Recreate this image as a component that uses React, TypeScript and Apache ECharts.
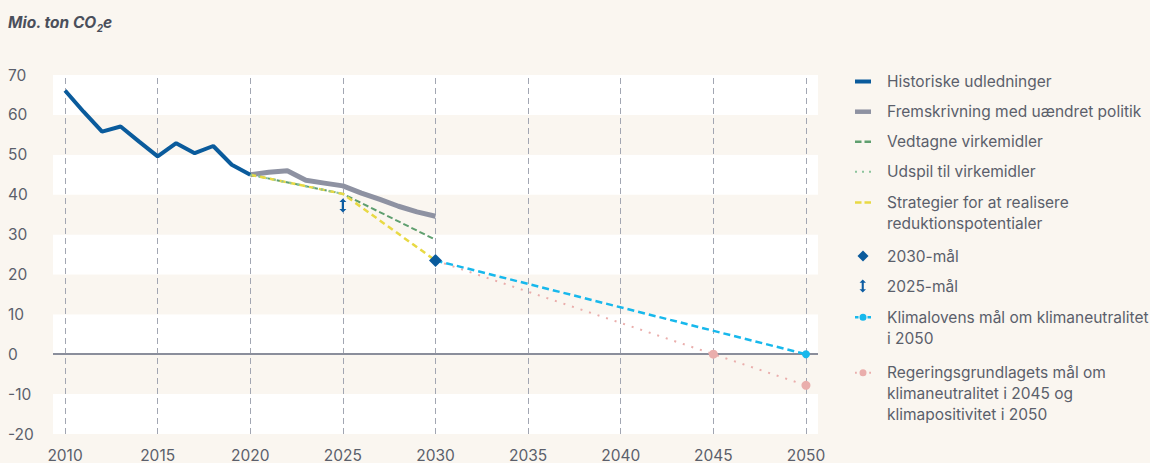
import React, { useEffect, useRef } from "react";
import * as echarts from "echarts";

// ---- data ----
const historicYears = [2010, 2011, 2012, 2013, 2014, 2015, 2016, 2017, 2018, 2019, 2020];
const historic = [66.1, 60.8, 55.8, 57.1, 53.3, 49.6, 52.9, 50.4, 52.2, 47.5, 45.0];
const projectionYears = [2020, 2021, 2022, 2023, 2024, 2025, 2026, 2027, 2028, 2029, 2030];
const projection = [45.0, 45.6, 46.0, 43.6, 42.9, 42.2, 40.4, 38.8, 37.1, 35.7, 34.6];
const adoptedYears = [2020, 2025, 2030];
const adopted = [45.0, 40.2, 28.7];
const proposalYears = [2020, 2025];
const proposals = [45.0, 40.2];
const strategyYears = [2020, 2025, 2030];
const strategy = [45.0, 40.2, 23.5];
const target2030 = [2030, 23.5];
const target2025 = [2025, 37.3];
const climateLawYears = [2030, 2050];
const climateLaw = [23.5, 0];
const govYears = [2030, 2045, 2050];
const gov = [23.5, 0, -7.8];
const xTicks = [2010, 2015, 2020, 2025, 2030, 2035, 2040, 2045, 2050];

const seriesNames = [
  "Historiske udledninger",
  "Fremskrivning med uændret politik",
  "Vedtagne virkemidler",
  "Udspil til virkemidler",
  "Strategier for at realisere reduktionspotentialer",
  "2030-mål",
  "2025-mål",
  "Klimalovens mål om klimaneutralitet i 2050",
  "Regeringsgrundlagets mål om klimaneutralitet i 2045 og klimapositivitet i 2050",
];
const legendLabels = [
  "Historiske udledninger",
  "Fremskrivning med uændret politik",
  "Vedtagne virkemidler",
  "Udspil til virkemidler",
  "Strategier for at realisere\nreduktionspotentialer",
  "2030-mål",
  "2025-mål",
  "Klimalovens mål om klimaneutralitet\ni 2050",
  "Regeringsgrundlagets mål om\nklimaneutralitet i 2045 og\nklimapositivitet i 2050",
];

const BG = "#faf6f0";
const TEXT = "#5b5f6b";
const FONT = "Inter";
const ARROW = "path://M5,0 L10,5 L6.6,5 L6.6,15 L10,15 L5,20 L0,15 L3.4,15 L3.4,5 L0,5 Z";
const CIRCLE = "M4.5,5.25A3.5,3.5 0 1,0 11.5,5.25A3.5,3.5 0 1,0 4.5,5.25Z";
const legendIcons = [
  "path://M0,0H16V4H0Z",
  "path://M0,0H16V4.5H0Z",
  "path://M0,0H6.5V2.5H0Z M9.5,0H16V2.5H9.5Z",
  "path://M0,0H2V2H0Z M7,0H9V2H7Z M14,0H16V2H14Z",
  "path://M0,0H6.5V2.5H0Z M9.5,0H16V2.5H9.5Z",
  "path://M5,0L10,5L5,10L0,5Z",
  ARROW,
  "path://M0,4H3.5V6.5H0Z M12.5,4H16V6.5H12.5Z " + CIRCLE,
  "path://M0,4.4H1.8V6.2H0Z M14.2,4.4H16V6.2H14.2Z " + CIRCLE,
];

const pairs = (xs: number[], ys: number[]) => xs.map((x, i) => [x, ys[i]]);

export default function App() {
  const ref = useRef<HTMLDivElement>(null);
  useEffect(() => {
    if (!ref.current) return;
    const chart = echarts.init(ref.current, null, { renderer: "svg" });
    const LH = 21;
    const legendCenters = [81.5, 111.7, 141.7, 171.7, 202.5, 256, 286, 317.3, 372.7];
    const legends = seriesNames.map((name, i) => {
      const n = legendLabels[i].split("\n").length;
      const isArrow = name === "2025-mål";
      const isDiamond = name === "2030-mål";
      const ih = isArrow ? 13 : isDiamond ? 11 : 10;
      const boxH = Math.max((2 * n - 1) * LH, ih);
      const text = " \n".repeat(n - 1) + legendLabels[i];
      return {
        show: true,
        orient: "vertical",
        left: isArrow ? 859.5 : isDiamond ? 857.5 : 855,
        top: legendCenters[i] - boxH / 2,
        padding: 0,
        itemWidth: 16,
        itemHeight: ih,
        icon: legendIcons[i],
        selectedMode: false,
        data: [name],
        formatter: () => text,
        textStyle: {
          color: TEXT,
          fontFamily: FONT,
          fontSize: 15.5,
          lineHeight: LH,
          padding: [0, 0, 0, 11],
        },
      };
    });

    chart.setOption({
      animation: false,
      backgroundColor: BG,
      textStyle: { fontFamily: FONT },
      title: {
        left: 8,
        top: 10,
        padding: 0,
        text: "{a|Mio. ton CO}{s|2}{a|e}",
        textStyle: {
          rich: {
            a: { fontFamily: FONT, fontSize: 15.5, fontWeight: "bold", fontStyle: "italic", color: "#4a4f5b", lineHeight: 20, verticalAlign: "bottom" },
            s: { fontFamily: FONT, fontSize: 10, fontWeight: "bold", fontStyle: "italic", color: "#4a4f5b", lineHeight: 15, verticalAlign: "bottom", padding: [0, 0, -3, 0] },
          },
        },
      },
      legend: legends,
      grid: { left: 53, right: 332, top: 75, bottom: 27, containLabel: false },
      xAxis: {
        type: "value",
        min: 2009.35,
        max: 2050.65,
        axisLine: { show: false, onZero: false },
        axisTick: { show: false },
        splitLine: { show: false },
        axisLabel: {
          customValues: xTicks,
          color: TEXT,
          fontFamily: FONT,
          fontSize: 15.5,
          margin: 13,
          formatter: (v: number) => String(v),
        },
      },
      yAxis: {
        type: "value",
        min: -20,
        max: 70,
        interval: 10,
        axisLine: { show: false },
        axisTick: { show: false },
        splitLine: { show: false },
        splitArea: { show: true, areaStyle: { color: ["#ffffff", BG] } },
        axisLabel: { color: TEXT, fontFamily: FONT, fontSize: 15.5, align: "left", margin: 45 },
      },
      series: [
        {
          type: "line",
          data: [],
          silent: true,
          z: 1,
          markLine: {
            silent: true,
            symbol: ["none", "none"],
            label: { show: false },
            emphasis: { disabled: true },
            data: [
              ...xTicks.map((x) => ({ xAxis: x, lineStyle: { color: "#a2a6b2", width: 1, type: [6, 4] } })),
              { yAxis: 0, lineStyle: { color: "#8a8e9b", width: 2, type: "solid" } },
            ],
          },
        },
        {
          name: seriesNames[1],
          type: "line",
          z: 3,
          symbol: "none",
          data: pairs(projectionYears, projection),
          lineStyle: { color: "#8e92a2", width: 5 },
          itemStyle: { color: "#8e92a2" },
        },
        {
          name: seriesNames[2],
          type: "line",
          z: 4,
          symbol: "none",
          data: pairs(adoptedYears, adopted),
          lineStyle: { color: "#5f9f6f", width: 2, type: [6, 3] },
          itemStyle: { color: "#5f9f6f" },
        },
        {
          name: seriesNames[4],
          type: "line",
          z: 5,
          symbol: "none",
          data: pairs(strategyYears, strategy),
          lineStyle: { color: "#e8d944", width: 2.5, type: [6, 4] },
          itemStyle: { color: "#e8d944" },
        },
        {
          name: seriesNames[3],
          type: "line",
          z: 6,
          symbol: "none",
          data: pairs(proposalYears, proposals),
          lineStyle: { color: "#8cc49c", width: 2, type: [2, 6] },
          itemStyle: { color: "#8cc49c" },
        },
        {
          name: seriesNames[7],
          type: "line",
          z: 6,
          symbol: "circle",
          symbolSize: 8,
          data: climateLawYears.map((x, i) => (i === 0 ? { value: [x, climateLaw[i]], symbol: "none" } : { value: [x, climateLaw[i]] })),
          lineStyle: { color: "#17b8ec", width: 2.5, type: [7, 4] },
          itemStyle: { color: "#17b8ec" },
        },
        {
          name: seriesNames[8],
          type: "line",
          z: 5,
          symbol: "circle",
          symbolSize: 9,
          data: govYears.map((x, i) => (i === 0 ? { value: [x, gov[i]], symbol: "none" } : { value: [x, gov[i]] })),
          lineStyle: { color: "#eaaeac", width: 2, type: [2, 7] },
          itemStyle: { color: "#eaaeac" },
        },
        {
          name: seriesNames[0],
          type: "line",
          z: 7,
          symbol: "none",
          data: pairs(historicYears, historic),
          lineStyle: { color: "#0a5b9c", width: 4 },
          itemStyle: { color: "#0a5b9c" },
        },
        {
          name: seriesNames[5],
          type: "scatter",
          z: 8,
          symbol: "diamond",
          symbolSize: 13,
          data: [target2030],
          itemStyle: { color: "#0a5b9c", opacity: 1 },
        },
        {
          name: seriesNames[6],
          type: "scatter",
          z: 8,
          symbol: ARROW,
          symbolSize: [7, 14],
          data: [target2025],
          itemStyle: { color: "#0d5da3", opacity: 1 },
        },
      ],
    });
    return () => chart.dispose();
  }, []);
  return <div ref={ref} style={{ width: 1150, height: 463, position: "absolute", left: 0, top: 0 }} />;
}
